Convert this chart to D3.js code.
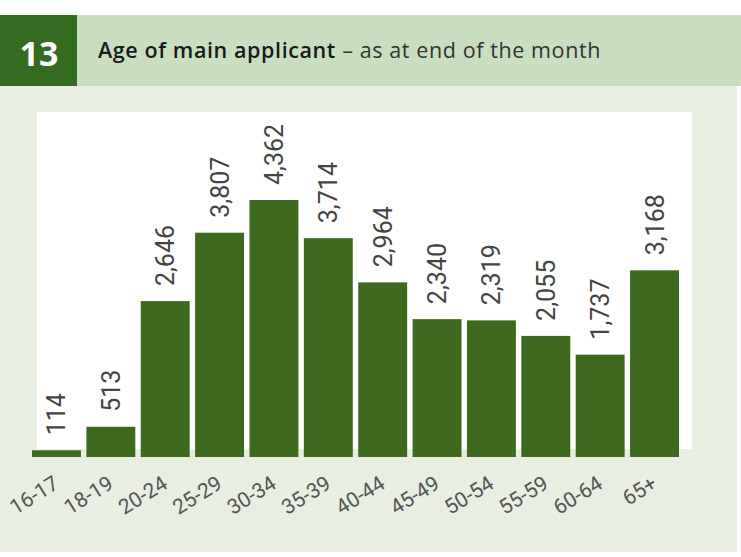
<!DOCTYPE html>
<html>
<head>
<meta charset="utf-8">
<script src="https://cdn.jsdelivr.net/npm/d3@7"></script>
<style>
  body { margin: 0; background: #fff; }
</style>
</head>
<body>
<div id="chart"></div>
<script>
// Data
const ageGroups = ["16-17", "18-19", "20-24", "25-29", "30-34", "35-39", "40-44", "45-49", "50-54", "55-59", "60-64", "65+"];
const applicants = [114, 513, 2646, 3807, 4362, 3714, 2964, 2340, 2319, 2055, 1737, 3168];
const chartNumber = "13";
const titleBold = "Age of main applicant";
const titleRest = " \u2013 as at end of the month";

const width = 741, height = 557;

const svg = d3.select("#chart")
    .append("svg")
    .attr("width", width)
    .attr("height", height)
    .style("background", "white");

// Pale green panel
svg.append("rect")
    .attr("x", 0).attr("y", 86)
    .attr("width", 737).attr("height", 466)
    .attr("fill", "#e8efe2");

// Header band + number box
svg.append("rect")
    .attr("x", 0).attr("y", 15)
    .attr("width", 741).attr("height", 71)
    .attr("fill", "#c9debf");

svg.append("rect")
    .attr("x", 0).attr("y", 15)
    .attr("width", 77).attr("height", 71)
    .attr("fill", "#336b20");

svg.append("text")
    .attr("x", 39).attr("y", 66)
    .attr("text-anchor", "middle")
    .style("font-family", "'Open Sans', sans-serif")
    .style("font-weight", 700)
    .style("font-size", "34px")
    .attr("fill", "white")
    .text(chartNumber);

const title = svg.append("text")
    .attr("x", 98).attr("y", 58)
    .style("font-family", "'Open Sans', sans-serif")
    .style("font-size", "21.5px")
    .style("letter-spacing", "0.6px")
    .attr("fill", "#1a1a1a");
title.append("tspan").style("font-weight", 600).text(titleBold);
title.append("tspan").style("font-weight", 400).attr("fill", "#333").text(titleRest);

// White plot area
svg.append("rect")
    .attr("x", 37).attr("y", 112)
    .attr("width", 655).attr("height", 337)
    .attr("fill", "white");

// Scales
const x = d3.scaleBand()
    .domain(ageGroups)
    .range([32, 679])
    .paddingInner(0.1)
    .paddingOuter(0);

const y = d3.scaleLinear()
    .domain([0, 4362])
    .range([457, 200]);

const data = ageGroups.map((g, i) => ({ group: g, value: applicants[i] }));

// Bars
svg.selectAll(".bar")
    .data(data)
    .enter()
    .append("rect")
    .attr("class", "bar")
    .attr("x", d => x(d.group))
    .attr("y", d => y(d.value))
    .attr("width", x.bandwidth())
    .attr("height", d => y(0) - y(d.value))
    .attr("fill", "#3d6a1f");

// Value labels, rotated
svg.selectAll(".val")
    .data(data)
    .enter()
    .append("text")
    .attr("class", "val")
    .attr("transform", d => `translate(${x(d.group) + x.bandwidth() / 2},${y(d.value) - 15}) rotate(-90)`)
    .attr("dy", "0.36em")
    .attr("text-anchor", "start")
    .style("font-family", "Roboto, sans-serif")
    .style("font-size", "25px")
    .attr("fill", "#444")
    .text(d => d3.format(",")(d.value));

// X axis labels (no line, no ticks)
const xAxis = svg.append("g")
    .attr("transform", `translate(0,${y(0)})`)
    .call(d3.axisBottom(x).tickSize(0).tickPadding(0));

xAxis.select(".domain").remove();
xAxis.selectAll("text")
    .attr("transform", "translate(0,24) rotate(-32)")
    .attr("dy", "0.35em")
    .style("text-anchor", "end")
    .style("font-family", "Roboto, sans-serif")
    .style("font-size", "21px")
    .attr("fill", "#555");
</script>
</body>
</html>
